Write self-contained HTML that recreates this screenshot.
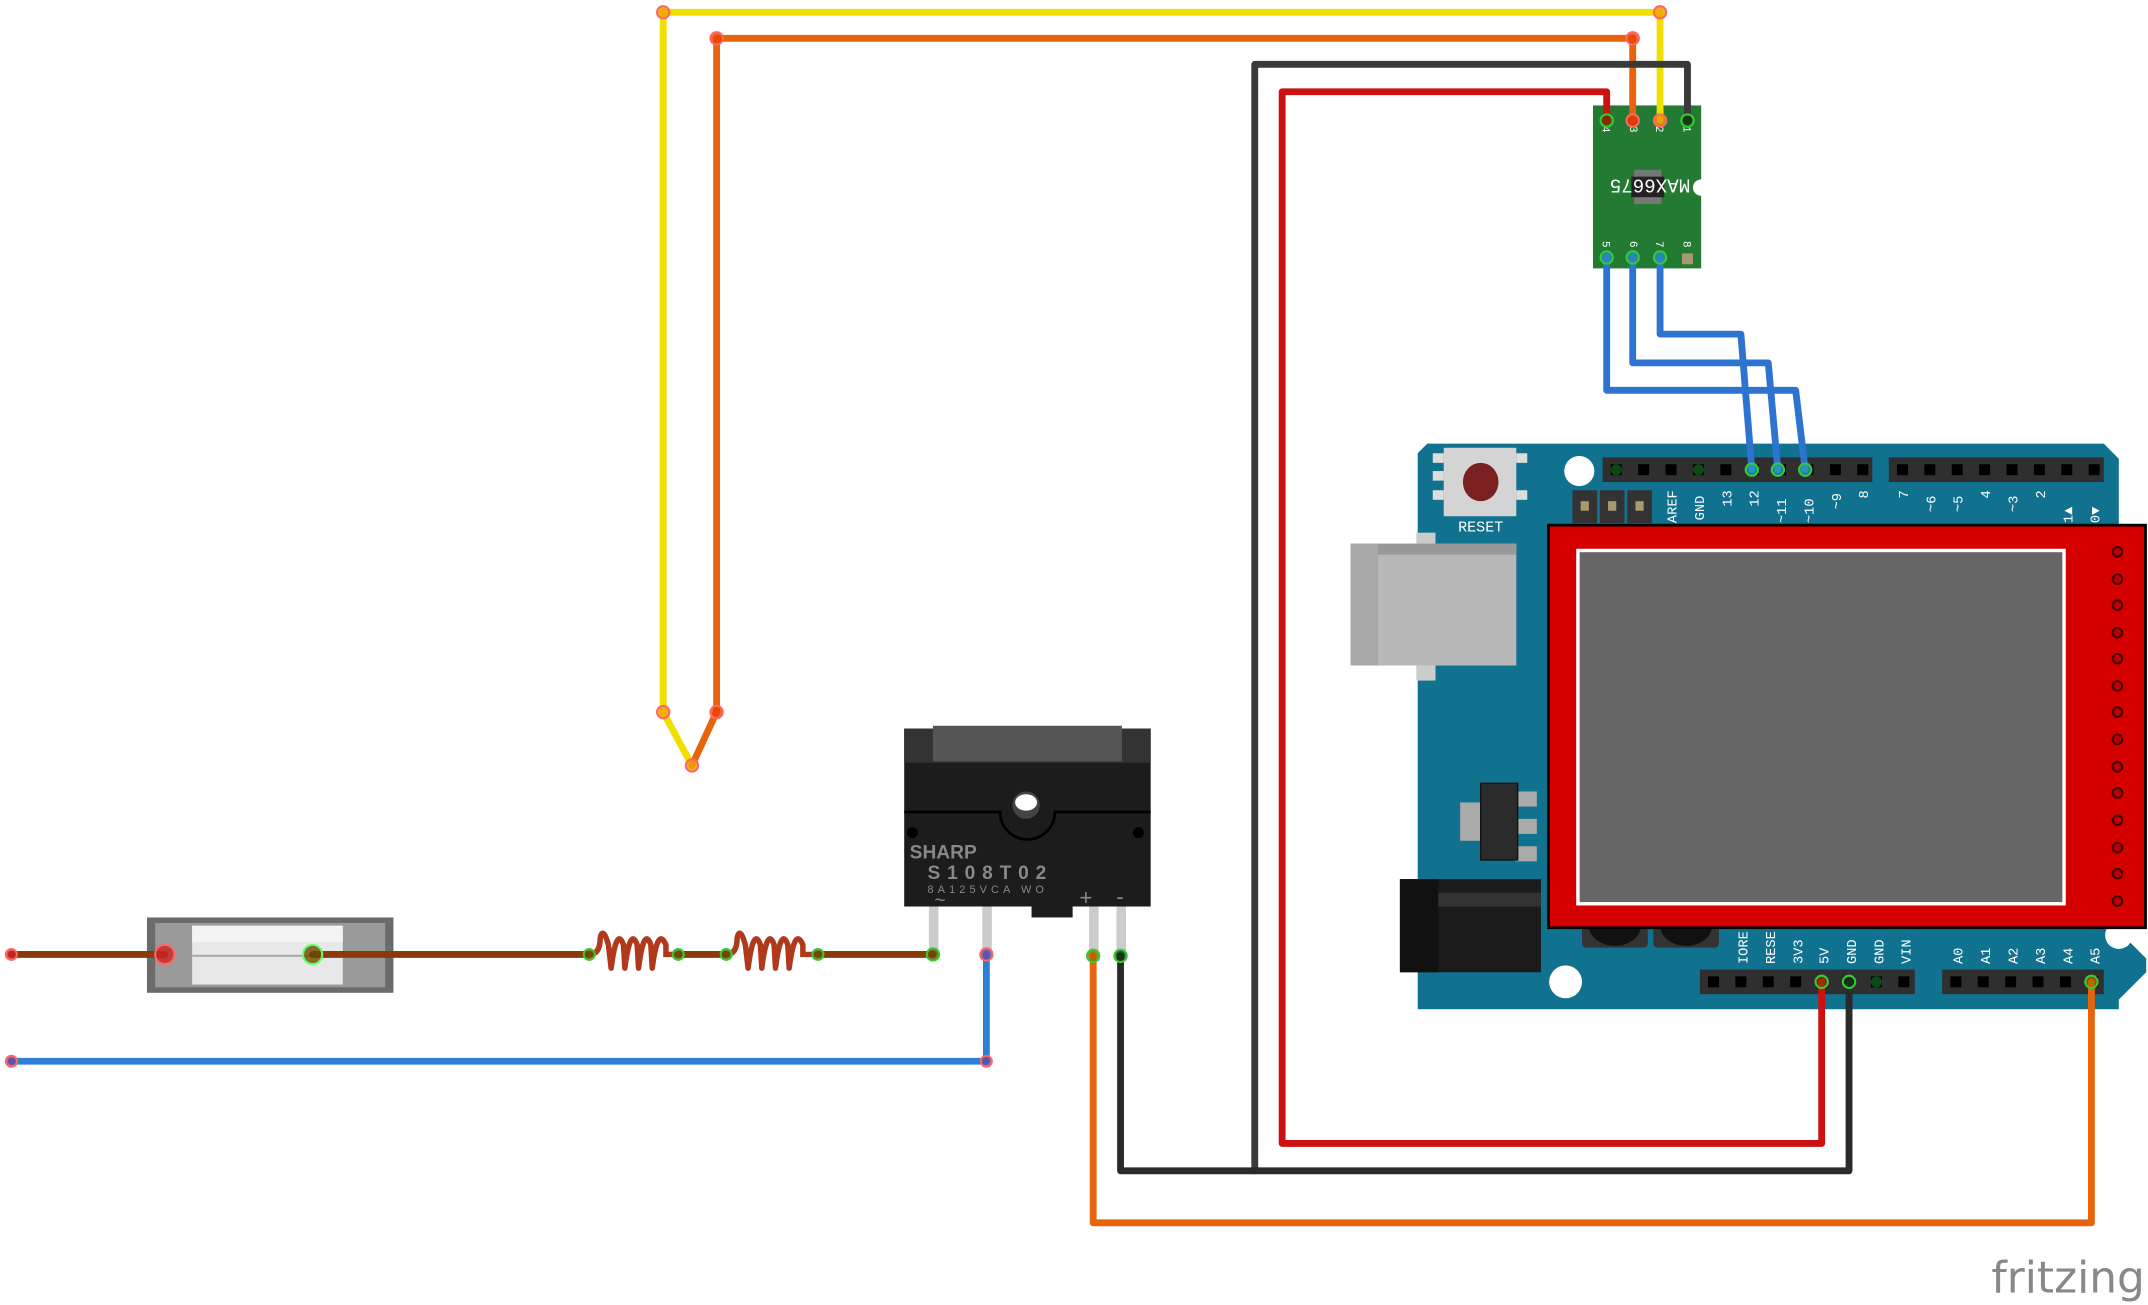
<!DOCTYPE html>
<html><head><meta charset="utf-8"><style>
html,body{margin:0;padding:0;background:#fff;}
svg{display:block;}
text{font-family:"Liberation Mono",monospace;}
</style></head><body>
<svg width="2148" height="1305" viewBox="0 0 1568 953" xmlns="http://www.w3.org/2000/svg">
<rect width="1568" height="953" fill="#fff"/>

<!-- Arduino board -->
<path d="M1042 324 H1536 L1547 335 V680 L1567 700 V710 L1547 730 V737 H1035 V331 Z" fill="#11728f" />
<circle cx="1153" cy="344" r="11" fill="#fff"/>
<circle cx="1143" cy="717" r="12" fill="#fff"/>
<circle cx="1547" cy="683" r="10" fill="#fff"/>
<!-- reset -->
<rect x="1046" y="331" width="8" height="7" fill="#ddd"/><rect x="1046" y="344" width="8" height="7" fill="#ddd"/><rect x="1046" y="358" width="8" height="7" fill="#ddd"/>
<rect x="1107" y="331" width="8" height="7" fill="#ddd"/><rect x="1107" y="358" width="8" height="7" fill="#ddd"/>
<rect x="1054" y="327" width="53" height="50" fill="#d4d4d4"/>
<ellipse cx="1081" cy="352" rx="13" ry="14" fill="#7a2020"/>
<text x="1081" y="388" font-size="11" fill="#fff" text-anchor="middle">RESET</text>
<!-- ICSP -->
<rect x="1148" y="358" width="18" height="24" fill="#333"/><rect x="1168" y="358" width="18" height="24" fill="#333"/><rect x="1188" y="358" width="18" height="24" fill="#333"/>
<rect x="1154" y="366" width="6" height="7" fill="#a89a70"/><rect x="1174" y="366" width="6" height="7" fill="#a89a70"/><rect x="1194" y="366" width="6" height="7" fill="#a89a70"/>
<!-- headers top -->
<rect x="1170" y="334" width="197" height="18" fill="#2f2f2f"/>
<rect x="1379" y="334" width="157" height="18" fill="#2f2f2f"/>
<g fill="#000">
<rect x="1176" y="339" width="8" height="8"/><rect x="1196" y="339" width="8" height="8"/><rect x="1216" y="339" width="8" height="8"/><rect x="1236" y="339" width="8" height="8"/><rect x="1256" y="339" width="8" height="8"/><rect x="1276" y="339" width="8" height="8"/><rect x="1296" y="339" width="8" height="8"/><rect x="1316" y="339" width="8" height="8"/><rect x="1336" y="339" width="8" height="8"/><rect x="1356" y="339" width="8" height="8"/>
<rect x="1385" y="339" width="8" height="8"/><rect x="1405" y="339" width="8" height="8"/><rect x="1425" y="339" width="8" height="8"/><rect x="1445" y="339" width="8" height="8"/><rect x="1465" y="339" width="8" height="8"/><rect x="1485" y="339" width="8" height="8"/><rect x="1505" y="339" width="8" height="8"/><rect x="1525" y="339" width="8" height="8"/>
</g>
<circle cx="1180" cy="343" r="4" fill="#0b4a14"/><circle cx="1240" cy="343" r="4" fill="#0b4a14"/>
<g font-size="10" fill="#fff">
<text transform="translate(1224,382) rotate(-90)">AREF</text>
<text transform="translate(1244,380) rotate(-90)">GND</text>
<text transform="translate(1264,370) rotate(-90)">13</text>
<text transform="translate(1284,370) rotate(-90)">12</text>
<text transform="translate(1304,382) rotate(-90)">~11</text>
<text transform="translate(1324,382) rotate(-90)">~10</text>
<text transform="translate(1344,372) rotate(-90)">~9</text>
<text transform="translate(1364,364) rotate(-90)">8</text>
<text transform="translate(1393,364) rotate(-90)">7</text>
<text transform="translate(1413,374) rotate(-90)">~6</text>
<text transform="translate(1433,374) rotate(-90)">~5</text>
<text transform="translate(1453,364) rotate(-90)">4</text>
<text transform="translate(1473,374) rotate(-90)">~3</text>
<text transform="translate(1493,364) rotate(-90)">2</text>
<text transform="translate(1513,382) rotate(-90)">1▲</text>
<text transform="translate(1533,382) rotate(-90)">0▼</text>
</g>
<!-- headers bottom -->
<rect x="1241" y="708" width="157" height="18" fill="#2f2f2f"/>
<rect x="1418" y="708" width="118" height="18" fill="#2f2f2f"/>
<g fill="#000">
<rect x="1247" y="713" width="8" height="8"/><rect x="1267" y="713" width="8" height="8"/><rect x="1287" y="713" width="8" height="8"/><rect x="1307" y="713" width="8" height="8"/><rect x="1326" y="713" width="8" height="8"/><rect x="1346" y="713" width="8" height="8"/><rect x="1366" y="713" width="8" height="8"/><rect x="1386" y="713" width="8" height="8"/>
<rect x="1424" y="713" width="8" height="8"/><rect x="1444" y="713" width="8" height="8"/><rect x="1464" y="713" width="8" height="8"/><rect x="1484" y="713" width="8" height="8"/><rect x="1504" y="713" width="8" height="8"/><rect x="1524" y="713" width="8" height="8"/>
</g>
<circle cx="1370" cy="717" r="4" fill="#0b4a14"/>
<g font-size="10" fill="#fff">
<text transform="translate(1276,704) rotate(-90)">IORE</text>
<text transform="translate(1296,704) rotate(-90)">RESE</text>
<text transform="translate(1316,704) rotate(-90)">3V3</text>
<text transform="translate(1335,704) rotate(-90)">5V</text>
<text transform="translate(1355,704) rotate(-90)">GND</text>
<text transform="translate(1375,704) rotate(-90)">GND</text>
<text transform="translate(1395,704) rotate(-90)">VIN</text>
<text transform="translate(1433,704) rotate(-90)">A0</text>
<text transform="translate(1453,704) rotate(-90)">A1</text>
<text transform="translate(1473,704) rotate(-90)">A2</text>
<text transform="translate(1493,704) rotate(-90)">A3</text>
<text transform="translate(1513,704) rotate(-90)">A4</text>
<text transform="translate(1533,704) rotate(-90)">A5</text>
</g>
<!-- caps -->
<rect x="1155" y="672" width="48" height="20" rx="3" fill="#333"/><path d="M1160 676 A18 14 0 0 0 1198 676 Z" fill="#111"/>
<rect x="1207" y="672" width="48" height="20" rx="3" fill="#333"/><path d="M1212 676 A18 14 0 0 0 1250 676 Z" fill="#111"/>
<!-- USB -->
<rect x="1034" y="389" width="14" height="108" fill="#ccc"/>
<rect x="986" y="397" width="121" height="89" fill="#b8b8b8"/>
<rect x="986" y="397" width="121" height="8" fill="#999"/>
<rect x="986" y="397" width="20" height="89" fill="#a8a8a8"/>
<!-- regulator -->
<rect x="1066" y="586" width="16" height="28" fill="#aaa"/>
<rect x="1106" y="578" width="16" height="11" fill="#aaa"/><rect x="1106" y="598" width="16" height="11" fill="#aaa"/><rect x="1106" y="618" width="16" height="11" fill="#aaa"/>
<rect x="1081" y="572" width="27" height="56" fill="#2b2b2b" stroke="#111"/>
<!-- power jack -->
<rect x="1022" y="642" width="103" height="68" fill="#1b1b1b"/>
<rect x="1022" y="642" width="28" height="68" fill="#111"/>
<rect x="1050" y="652" width="75" height="10" fill="#333"/>

<!-- LCD -->
<rect x="1130.5" y="383.5" width="436" height="294" fill="#d40000" stroke="#000" stroke-width="2"/>
<rect x="1152" y="402" width="355" height="258" fill="#666" stroke="#fff" stroke-width="2.5"/>
<g fill="#b00" stroke="#400" stroke-width="1.5">
<circle cx="1546" cy="403" r="3.5"/><circle cx="1546" cy="423" r="3.5"/><circle cx="1546" cy="442" r="3.5"/><circle cx="1546" cy="462" r="3.5"/><circle cx="1546" cy="481" r="3.5"/><circle cx="1546" cy="501" r="3.5"/><circle cx="1546" cy="520" r="3.5"/><circle cx="1546" cy="540" r="3.5"/><circle cx="1546" cy="560" r="3.5"/><circle cx="1546" cy="579" r="3.5"/><circle cx="1546" cy="599" r="3.5"/><circle cx="1546" cy="619" r="3.5"/><circle cx="1546" cy="638" r="3.5"/><circle cx="1546" cy="658" r="3.5"/>
</g>

<!-- MAX6675 -->
<rect x="1163" y="77" width="79" height="119" fill="#237a33"/>
<circle cx="1242" cy="137" r="6" fill="#fff"/>
<rect x="1193" y="124" width="20" height="25" fill="#777"/>
<rect x="1191" y="129" width="24" height="15" fill="#222"/>
<text transform="translate(1234,131) rotate(180)" font-size="14" fill="#fff">MAX6675</text>
<g font-size="8" fill="#fff">
<text transform="translate(1170,92) rotate(90)">4</text><text transform="translate(1190,92) rotate(90)">3</text><text transform="translate(1209,92) rotate(90)">2</text><text transform="translate(1229,92) rotate(90)">1</text>
<text transform="translate(1170,176) rotate(90)">5</text><text transform="translate(1190,176) rotate(90)">6</text><text transform="translate(1209,176) rotate(90)">7</text><text transform="translate(1229,176) rotate(90)">8</text>
</g>
<rect x="1228" y="185" width="8" height="8" fill="#a89a70"/>

<!-- Relay -->
<rect x="678" y="660" width="7" height="38" fill="#ccc"/><rect x="717" y="660" width="7" height="38" fill="#ccc"/><rect x="795" y="660" width="7" height="38" fill="#ccc"/><rect x="815" y="660" width="7" height="38" fill="#ccc"/>
<rect x="660" y="532" width="180" height="130" fill="#1c1c1c"/>
<rect x="660" y="532" width="180" height="25" fill="#333"/>
<rect x="681" y="530" width="138" height="26" fill="#555"/>
<path d="M660 593 H730 A20 20 0 0 0 770 593 H840" stroke="#000" stroke-width="2" fill="none"/>
<circle cx="749" cy="588" r="10" fill="#444"/><ellipse cx="749" cy="586" rx="8" ry="6" fill="#fff"/>
<circle cx="666" cy="608" r="4" fill="#000"/><circle cx="831" cy="608" r="4" fill="#000"/>
<rect x="753" y="660" width="30" height="10" fill="#1c1c1c"/>
<text x="664" y="627" style="font-family:'Liberation Sans',sans-serif;font-weight:bold" font-size="14" fill="#888">SHARP</text>
<text x="677" y="642" style="font-family:'Liberation Sans',sans-serif;font-weight:bold" font-size="14" fill="#888" letter-spacing="5">S108T02</text>
<text x="677" y="652" style="font-family:'Liberation Sans',sans-serif" font-size="8" fill="#888" letter-spacing="3">8A125VCA WO</text>
<text x="682" y="662" font-size="14" fill="#888">~</text>
<text x="788" y="661" style="font-family:'Liberation Sans',sans-serif" font-size="16" fill="#888">+</text>
<text x="815" y="660" style="font-family:'Liberation Sans',sans-serif" font-size="16" fill="#888">-</text>

<!-- Fuse -->
<rect x="107" y="670" width="180" height="55" fill="#6b6b6b"/>
<rect x="113" y="674" width="168" height="47" fill="#9a9a9a"/>
<rect x="140" y="676" width="110" height="43" fill="#e8e8e8"/>
<rect x="140" y="676" width="110" height="12" fill="#f3f3f3"/>
<line x1="140" y1="698" x2="250" y2="698" stroke="#aaa" stroke-width="1.5"/>

<!-- wires -->
<g fill="none" stroke-linecap="round" stroke-linejoin="round" stroke-width="5">
<polyline points="505,559 484,520 484,9 1212,9 1212,88" stroke="#f0e000"/>
<polyline points="505,559 523,520 523,28 1192,28 1192,88" stroke="#e8640a"/>
<polyline points="916,855 916,47 1232,47 1232,88" stroke="#3a3a3a"/>
<polyline points="1173,88 1173,67 936,67 936,835 1330,835 1330,717" stroke="#cc1111"/>
<polyline points="818,698 818,855 1350,855 1350,717" stroke="#2a2a2a"/>
<polyline points="798,698 798,893 1527,893 1527,717" stroke="#e8640a"/>
<polyline points="1173,188 1173,285 1311,285 1318,343" stroke="#2d74d0"/>
<polyline points="1192,188 1192,265 1291,265 1298,343" stroke="#2d74d0"/>
<polyline points="1212,188 1212,244 1271,244 1279,343" stroke="#2d74d0"/>
<polyline points="8,775 720,775 720,697" stroke="#2d7fd6"/>
<g stroke="#8a3a06"><line x1="8" y1="697" x2="120" y2="697"/><line x1="228" y1="697" x2="430" y2="697"/><line x1="495" y1="697" x2="530" y2="697"/><line x1="597" y1="697" x2="681" y2="697"/></g>
</g>
<!-- coils -->
<g fill="none" stroke="#b0391c" stroke-width="4" stroke-linecap="round">
<path d="M430 697 Q438 697 438 685 Q440 676 444 690 L446 707 M446 707 Q450 676 455 690 L456 707 M456 707 Q460 676 465 690 L466 707 M466 707 Q470 676 475 690 L476 707 M476 707 Q480 676 486 690 L486 697 Q488 697 495 697"/>
<path d="M530 697 Q538 697 538 685 Q540 676 544 690 L546 707 M546 707 Q550 676 555 690 L556 707 M556 707 Q560 676 565 690 L566 707 M566 707 Q570 676 575 690 L576 707 M576 707 Q580 676 586 690 L586 697 Q590 697 597 697"/>
</g>
<!-- endpoints -->
<g stroke-width="1.5" fill-opacity="0.8">
<circle cx="484" cy="520" r="4.5" fill="#f0a000" stroke="#f66"/>
<circle cx="523" cy="520" r="4.5" fill="#e84000" stroke="#f66"/>
<circle cx="505" cy="559" r="4.5" fill="#f0a000" stroke="#f66"/>
<circle cx="484" cy="9" r="4.5" fill="#f0a000" stroke="#f66"/>
<circle cx="523" cy="28" r="4.5" fill="#e84000" stroke="#f66"/>
<circle cx="1212" cy="9" r="4.5" fill="#f0a000" stroke="#f66"/>
<circle cx="1192" cy="28" r="4.5" fill="#e84000" stroke="#f66"/>
<circle cx="1173" cy="88" r="4.5" fill="#7a3000" stroke="#3c3"/>
<circle cx="1192" cy="88" r="4.5" fill="#e83000" stroke="#f66"/>
<circle cx="1212" cy="88" r="4.5" fill="#f09000" stroke="#f66"/>
<circle cx="1232" cy="88" r="4.5" fill="#113311" stroke="#3c3"/>
<circle cx="1173" cy="188" r="4.5" fill="#2a8ac0" stroke="#3c3"/>
<circle cx="1192" cy="188" r="4.5" fill="#2a8ac0" stroke="#3c3"/>
<circle cx="1212" cy="188" r="4.5" fill="#2a8ac0" stroke="#3c3"/>
<circle cx="1279" cy="343" r="4.5" fill="#2a9ac0" stroke="#3c3"/>
<circle cx="1298" cy="343" r="4.5" fill="#2a9ac0" stroke="#3c3"/>
<circle cx="1318" cy="343" r="4.5" fill="#2a9ac0" stroke="#3c3"/>
<circle cx="1330" cy="717" r="4.5" fill="#993300" stroke="#3c3"/>
<circle cx="1350" cy="717" r="4.5" fill="#113311" stroke="#3c3"/>
<circle cx="1527" cy="717" r="4.5" fill="#aa6600" stroke="#3c3"/>
<circle cx="798" cy="698" r="4.5" fill="#aa6600" stroke="#3c3"/>
<circle cx="818" cy="698" r="4.5" fill="#113311" stroke="#3c3"/>
<circle cx="720" cy="697" r="4.5" fill="#6a4a9a" stroke="#f66"/>
<circle cx="720" cy="775" r="4" fill="#6a4a9a" stroke="#f66"/>
<circle cx="8" cy="775" r="4" fill="#6a4a9a" stroke="#f66"/>
<circle cx="681" cy="697" r="4.5" fill="#6a4a00" stroke="#3c3"/>
<circle cx="8" cy="697" r="4" fill="#c22" stroke="#f66"/>
<circle cx="120" cy="697" r="7" fill="#c22" stroke="#f66"/>
<circle cx="228" cy="697" r="7" fill="#6a4a00" stroke="#6f6"/>
<circle cx="430" cy="697" r="4" fill="#6a4a00" stroke="#3c3"/>
<circle cx="495" cy="697" r="4" fill="#6a4a00" stroke="#3c3"/>
<circle cx="530" cy="697" r="4" fill="#6a4a00" stroke="#3c3"/>
<circle cx="597" cy="697" r="4" fill="#6a4a00" stroke="#3c3"/>
</g>

<text x="1566" y="944" text-anchor="end" style="font-family:'DejaVu Sans','Liberation Sans',sans-serif" font-size="32" fill="#888">fritzing</text>
</svg>
</body></html>
